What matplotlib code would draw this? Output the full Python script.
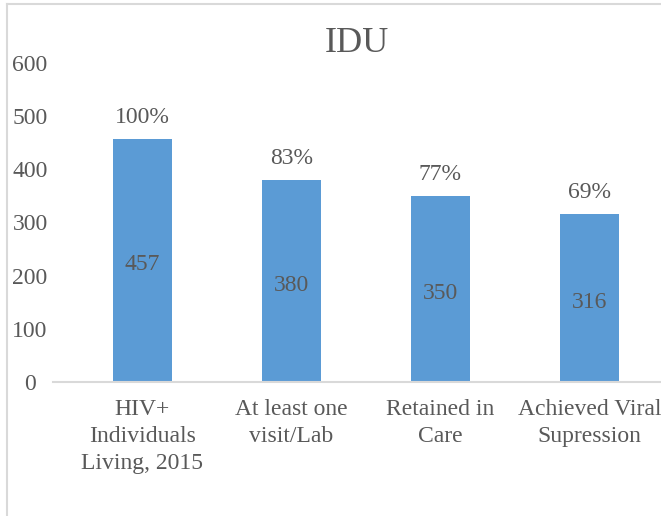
import matplotlib
matplotlib.use("Agg")
import matplotlib.pyplot as plt
from matplotlib.lines import Line2D

plt.rcParams["font.family"] = ["Liberation Serif", "DejaVu Serif"]

# 數據
categories = ["HIV+\nIndividuals\nLiving, 2015", "At least one\nvisit/Lab",
              "Retained in\nCare", "Achieved Viral\nSupression"]
counts = [457, 380, 350, 316]
pct_labels = ["100%", "83%", "77%", "69%"]

bar_color = "#5B9BD5"
txt = "#595959"

fig = plt.figure(figsize=(6.61, 5.16), dpi=100)
ax = fig.add_axes([53 / 661, 134 / 516, 1 - 53 / 661, (453 - 134) / 516])

x = range(len(categories))
bars = ax.bar(x, counts, width=0.4, color=bar_color)

for b, c, p in zip(bars, counts, pct_labels):
    cx = b.get_x() + b.get_width() / 2
    ax.text(cx, c / 2 - 8, str(c), ha="center", va="center", fontsize=17, color=txt)
    ax.text(cx, c + 20, p, ha="center", va="bottom", fontsize=17, color=txt)

ax.set_xlim(-0.6, 3.48)
ax.set_ylim(0, 600)
ax.set_yticks(range(0, 601, 100))
ax.set_xticks(list(x))
ax.set_xticklabels(categories, fontsize=17, color=txt, linespacing=1.4)
for lab in ax.get_yticklabels():
    lab.set_ha("center")
    lab.set_fontsize(17)
    lab.set_color(txt)
ax.tick_params(axis="y", length=0, pad=16.5)
ax.tick_params(axis="x", length=0, pad=12)

for s in ("top", "right", "left"):
    ax.spines[s].set_visible(False)
ax.spines["bottom"].set_color("#D9D9D9")
ax.spines["bottom"].set_linewidth(1.5)

fig.text(357 / 661, 1 - 44 / 516, "IDU", ha="center", va="center",
         fontsize=26, color=txt)

# 外框（左、上）
fig.add_artist(Line2D([7 / 661, 7 / 661], [0, 1 - 4 / 516],
                      transform=fig.transFigure, color="#D9D9D9", lw=1.5))
fig.add_artist(Line2D([7 / 661, 1], [1 - 4 / 516, 1 - 4 / 516],
                      transform=fig.transFigure, color="#D9D9D9", lw=1.5))

fig.savefig("out.png", dpi=100)
